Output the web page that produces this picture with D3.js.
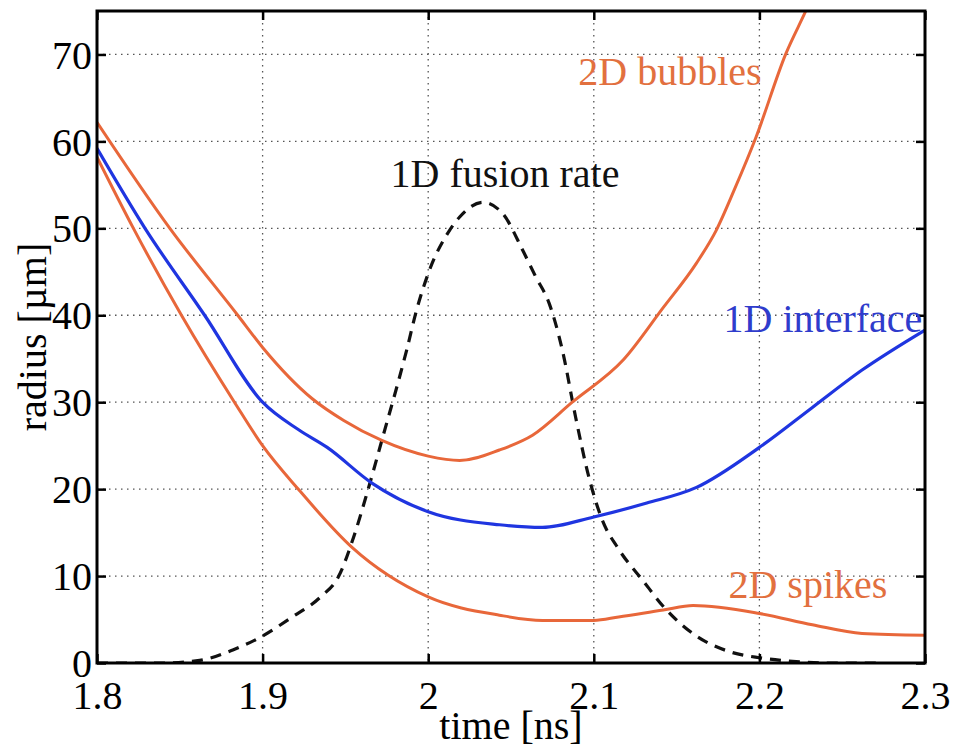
<!DOCTYPE html>
<html>
<head>
<meta charset="utf-8">
<script src="https://cdn.jsdelivr.net/npm/d3@7"></script>
<style>
  body { margin: 0; background: #fff; }
  svg text { font-family: "Liberation Serif", "DejaVu Serif", serif; }
</style>
</head>
<body>
<svg width="954" height="749"></svg>
<script>
// values
var xTicks = [1.8, 1.9, 2.0, 2.1, 2.2, 2.3];
var xTickLabels = ['1.8', '1.9', '2', '2.1', '2.2', '2.3'];
var yTicks = [0, 10, 20, 30, 40, 50, 60, 70];

var bubbles = [
    [1.8, 62.2], [1.844, 50], [1.885, 40], [1.9, 36.3], [1.93, 30.4], [1.949, 27.9],
    [1.972, 25.6], [2.0, 23.8], [2.019, 23.3], [2.043, 24.5], [2.063, 26.2],
    [2.087, 30], [2.118, 34.9], [2.142, 40.9], [2.162, 46], [2.174, 49.8],
    [2.185, 54.5], [2.198, 60.5], [2.216, 70.1], [2.228, 75], [2.235, 78]
];
var iface = [
    [1.8, 59.2], [1.829, 50], [1.865, 40], [1.9, 30], [1.922, 26.8], [1.939, 24.8],
    [1.966, 20.7], [2.0, 17.4], [2.043, 15.9], [2.069, 15.6], [2.1, 16.8],
    [2.132, 18.4], [2.162, 20.2], [2.2, 24.8], [2.232, 29.4], [2.262, 33.7], [2.3, 38.3]
];
var spikes = [
    [1.8, 58.2], [1.822, 50], [1.851, 40], [1.883, 30], [1.9, 25], [1.922, 19.9],
    [1.954, 13.3], [2.0, 7.6], [2.043, 5.5], [2.069, 4.9], [2.1, 4.9], [2.115, 5.3],
    [2.142, 6.1], [2.16, 6.6], [2.2, 5.7], [2.232, 4.4], [2.262, 3.4], [2.3, 3.2]
];
var fusion = [
    [1.8, 0], [1.84, 0], [1.862, 0.3], [1.882, 1.5], [1.898, 2.9], [1.918, 5.3],
    [1.935, 7.6], [1.946, 10], [1.955, 14.5], [1.963, 19.5], [1.972, 25.6],
    [1.987, 36], [1.993, 40.6], [2.0, 44.8],
    [2.013, 49.8], [2.019, 51.3], [2.033, 53], [2.045, 51.7], [2.057, 47.5],
    [2.065, 44.4], [2.073, 41.4], [2.081, 36], [2.089, 28.3], [2.097, 21.4],
    [2.105, 16.5], [2.115, 13.1], [2.13, 9.4], [2.142, 6.5], [2.162, 3.1],
    [2.182, 1.3], [2.2, 0.6], [2.22, 0.2], [2.24, 0], [2.275, 0]
];

var margin = {left: 97, top: 11, right: 29, bottom: 86};
var width = 954 - margin.left - margin.right;
var height = 749 - margin.top - margin.bottom;

var x = d3.scaleLinear().domain([1.8, 2.3]).range([0, width]);
var y = d3.scaleLinear().domain([0, 75]).range([height, 0]);

var svg = d3.select('svg');
var g = svg.append('g')
    .attr('transform', 'translate(' + margin.left + ',' + margin.top + ')');

g.append('clipPath').attr('id', 'clip')
    .append('rect').attr('width', width).attr('height', height);

/////////////////////////////
// GRID
/////////////////////////////
g.append('g').attr('class', 'grid')
    .selectAll('line.gx')
    .data(xTicks.slice(1, -1))
    .enter().append('line')
        .attr('x1', (d) => x(d)).attr('x2', (d) => x(d))
        .attr('y1', 0).attr('y2', height)
        .attr('stroke', '#555').attr('stroke-width', 1.3)
        .attr('stroke-dasharray', '1.5,4.5');

g.append('g').attr('class', 'grid')
    .selectAll('line.gy')
    .data(yTicks.slice(1))
    .enter().append('line')
        .attr('x1', 0).attr('x2', width)
        .attr('y1', (d) => y(d)).attr('y2', (d) => y(d))
        .attr('stroke', '#555').attr('stroke-width', 1.3)
        .attr('stroke-dasharray', '1.5,4.5');

/////////////////////////////
// CURVES
/////////////////////////////
var line = d3.line()
    .x((d) => x(d[0]))
    .y((d) => y(d[1]))
    .curve(d3.curveMonotoneX);

var curves = g.append('g').attr('clip-path', 'url(#clip)');

curves.append('path').datum(fusion)
    .attr('d', line).attr('fill', 'none')
    .attr('stroke', '#111').attr('stroke-width', 3.2)
    .attr('stroke-dasharray', '11,8');

curves.append('path').datum(bubbles)
    .attr('d', line).attr('fill', 'none')
    .attr('stroke', '#e8673a').attr('stroke-width', 3);

curves.append('path').datum(spikes)
    .attr('d', line).attr('fill', 'none')
    .attr('stroke', '#e8673a').attr('stroke-width', 3);

curves.append('path').datum(iface)
    .attr('d', line).attr('fill', 'none')
    .attr('stroke', '#1f35e0').attr('stroke-width', 3.2);

/////////////////////////////
// AXES
/////////////////////////////
var tickSize = 9;
var axisBottom = d3.axisBottom(x).tickValues(xTicks)
    .tickFormat((d, i) => xTickLabels[i]).tickSize(-tickSize).tickPadding(18);
var axisTop = d3.axisTop(x).tickValues(xTicks).tickFormat('').tickSize(-tickSize);
var axisLeft = d3.axisLeft(y).tickValues(yTicks).tickSize(-tickSize).tickPadding(5);
var axisRight = d3.axisRight(y).tickValues(yTicks).tickFormat('').tickSize(-tickSize);

function style(sel) {
    sel.select('.domain').remove();
    sel.selectAll('line').attr('stroke', '#000').attr('stroke-width', 2.5);
    sel.selectAll('text').attr('fill', '#000').attr('font-size', 40)
        .style('font-family', '"Liberation Serif", serif');
}

g.append('g').attr('transform', 'translate(0,' + height + ')').call(axisBottom).call(style)
    .selectAll('text').attr('dy', '0.71em');
g.append('g').call(axisTop).call(style);
g.append('g').call(axisLeft).call(style)
    .selectAll('text').attr('dy', '0.34em');
g.append('g').attr('transform', 'translate(' + width + ',0)').call(axisRight).call(style);

g.append('rect')
    .attr('width', width).attr('height', height)
    .attr('fill', 'none').attr('stroke', '#000').attr('stroke-width', 3);

/////////////////////////////
// LABELS
/////////////////////////////
svg.append('text')
    .attr('x', margin.left + width / 2).attr('y', 739)
    .attr('text-anchor', 'middle').attr('font-size', 40).attr('fill', '#000')
    .text('time [ns]');

svg.append('text')
    .attr('transform', 'translate(46,337) rotate(-90)')
    .attr('text-anchor', 'middle').attr('font-size', 40).attr('fill', '#000')
    .text('radius [µm]');

var notes = [
    {text: '2D bubbles', x: 2.146, y: 66.5, color: '#e2703f'},
    {text: '1D fusion rate', x: 2.0464, y: 54.7, color: '#111'},
    {text: '1D interface', x: 2.2384, y: 38.1, color: '#2f3ccc'},
    {text: '2D spikes', x: 2.2293, y: 7.5, color: '#e2703f'}
];
g.selectAll('text.note')
    .data(notes)
    .enter().append('text')
        .attr('class', 'note')
        .attr('x', (d) => x(d.x))
        .attr('y', (d) => y(d.y))
        .attr('text-anchor', 'middle')
        .attr('font-size', 40)
        .attr('fill', (d) => d.color)
        .text((d) => d.text);
</script>
</body>
</html>
